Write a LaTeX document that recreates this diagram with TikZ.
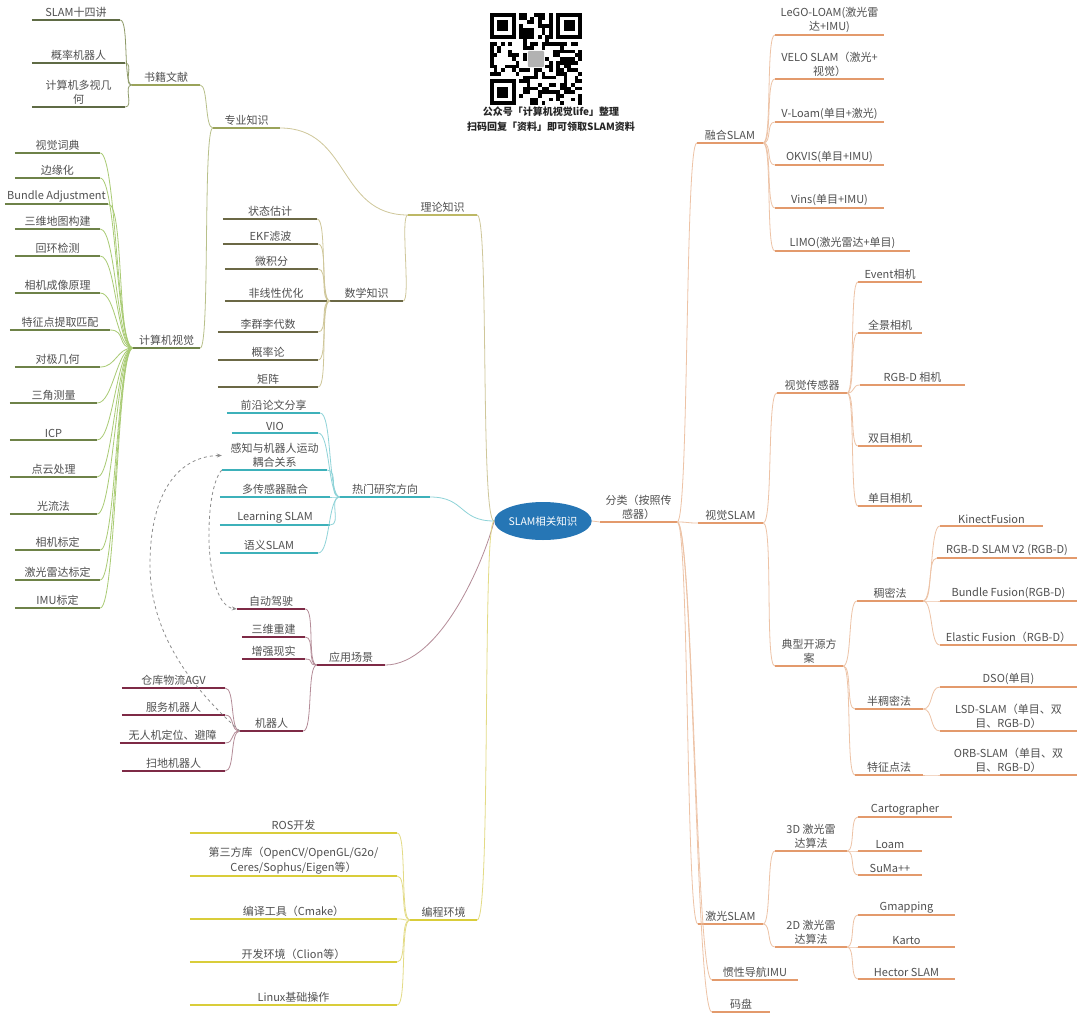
\documentclass[tikz,border=0pt]{standalone}
\usepackage{fontspec}
\setmainfont{Noto Sans CJK SC}
\usetikzlibrary{arrows.meta,shapes.geometric}
\definecolor{txt}{HTML}{505050}
\definecolor{gUL}{HTML}{6E8248}
\definecolor{gCN}{HTML}{A9CB74}
\definecolor{oUL}{HTML}{5F6B45}
\definecolor{oCN}{HTML}{8E9A68}
\definecolor{kUL}{HTML}{6B6845}
\definecolor{kCN}{HTML}{CFC79A}
\definecolor{lUL}{HTML}{BDB865}
\definecolor{pUL}{HTML}{9AA35A}
\definecolor{pCN}{HTML}{B8C08A}
\definecolor{tUL}{HTML}{3DB1BA}
\definecolor{tCN}{HTML}{8ED3D8}
\definecolor{mUL}{HTML}{7E2A46}
\definecolor{mCN}{HTML}{B48C98}
\definecolor{yUL}{HTML}{D9CD3A}
\definecolor{yCN}{HTML}{E3DB86}
\definecolor{rUL}{HTML}{E39A6C}
\definecolor{rCN}{HTML}{EDC3A6}
\definecolor{cenb}{HTML}{2676B5}
\tikzset{
  mmnode/.style={anchor=south, inner xsep=0pt, inner ysep=2pt, align=center, text=txt, font=\fontsize{11}{14.5}\selectfont},
  ul/.style={line width=1.8pt, line cap=butt},
  cn/.style={line width=0.8pt},
  rel/.style={draw=black!45, dashed, line width=0.8pt, -{Stealth[length=5pt,width=4pt]}},
}
\newcommand\mmn[6]{%
  \node[mmnode, minimum width={#3-#2}] (#1) at ({(#2+#3)/2},#4) {#6};
  \draw[#5] (#1.south west) -- (#1.south east);}
\newcommand\lc[4]{\draw[#1] (#2.south west) .. controls +(-#4,0) and +(#4,0) .. (#3.south east);}
\newcommand\rc[4]{\draw[#1] (#2.south east) .. controls +(#4,0) and +(-#4,0) .. (#3.south west);}
\begin{document}
\begin{tikzpicture}[x=1pt,y=-1pt]
\useasboundingbox (0,0) rectangle (1080,1015);
\fill[white] (0,0) rectangle (1080,1015);

% ---------- QR code ----------
\begin{scope}[shift={(490,13)},x=3.68pt,y=-3.68pt]
  \pgfmathsetseed{4242}
  \foreach \i in {0,...,24}{\foreach \j in {0,...,24}{
    \pgfmathtruncatemacro\qon{(((\i<8)&&(\j<8))||((\i>16)&&(\j<8))||((\i<8)&&(\j>16))||((\i>9)&&(\i<15)&&(\j>9)&&(\j<15))) ? 0 : ((rnd<0.5) ? 1 : 0)}
    \ifnum\qon=1 \fill[black] (\i,\j) rectangle ++(1,1);\fi
  }}
  \foreach \a/\b in {0/0,18/0,0/18}{
    \fill[black] (\a,\b) rectangle ++(7,7);
    \fill[white] (\a+1,\b+1) rectangle ++(5,5);
    \fill[black] (\a+2,\b+2) rectangle ++(3,3);}
  \fill[black!30,rounded corners=1pt] (10.3,10.3) rectangle (14.7,14.7);
\end{scope}
\node[font=\bfseries\fontsize{10}{12}\selectfont, text=black!85] (qt1) at (551,112) {公众号「计算机视觉life」整理};
\node[font=\bfseries\fontsize{10}{12}\selectfont, text=black!85] (qt2) at (551,127) {扫码回复「资料」即可领取SLAM资料};

% ---------- center ----------
\node[ellipse, fill=cenb, minimum width=97, minimum height=38, inner sep=0pt, text=white, font=\fontsize{10.5}{12}\selectfont] (cen) at (543,521) {SLAM相关知识};

% ---------- 理论知识 ----------
\mmn{ll}{408}{477}{215}{ul,lUL}{理论知识}
\mmn{zy}{213}{280}{128}{ul,pUL}{专业知识}
\mmn{bk}{132}{200}{85}{ul,pUL}{书籍文献}
\mmn{b1}{32}{120}{20}{ul,oUL}{SLAM十四讲}
\mmn{b2}{32}{125}{63}{ul,oUL}{概率机器人}
\mmn{b3}{32}{125}{107}{ul,oUL}{计算机多视几\\何}
\mmn{cv}{133}{200}{348}{ul,gUL}{计算机视觉}
\mmn{c1}{15}{100}{153}{ul,gUL}{视觉词典}
\mmn{c2}{15}{100}{178}{ul,gUL}{边缘化}
\mmn{c3}{5}{108}{204}{ul,gUL}{Bundle Adjustment}
\mmn{c4}{15}{100}{229}{ul,gUL}{三维地图构建}
\mmn{c5}{15}{100}{256}{ul,gUL}{回环检测}
\mmn{c6}{15}{100}{293}{ul,gUL}{相机成像原理}
\mmn{c7}{10}{110}{330}{ul,gUL}{特征点提取匹配}
\mmn{c8}{15}{100}{367}{ul,gUL}{对极几何}
\mmn{c9}{10}{97}{403}{ul,gUL}{三角测量}
\mmn{c10}{10}{97}{440}{ul,gUL}{ICP}
\mmn{c11}{10}{97}{477}{ul,gUL}{点云处理}
\mmn{c12}{10}{97}{514}{ul,gUL}{光流法}
\mmn{c13}{15}{100}{550}{ul,gUL}{相机标定}
\mmn{c14}{15}{100}{580}{ul,gUL}{激光雷达标定}
\mmn{c15}{15}{100}{608}{ul,gUL}{IMU标定}
\mmn{sx}{330}{403}{301}{ul,kUL}{数学知识}
\mmn{m1}{223}{317}{219}{ul,kUL}{状态估计}
\mmn{m2}{223}{318}{244}{ul,kUL}{EKF滤波}
\mmn{m3}{225}{318}{269}{ul,kUL}{微积分}
\mmn{m4}{225}{327}{301}{ul,kUL}{非线性优化}
\mmn{m5}{218}{318}{332}{ul,kUL}{李群李代数}
\mmn{m6}{218}{318}{360}{ul,kUL}{概率论}
\mmn{m7}{218}{318}{387}{ul,kUL}{矩阵}

\draw[cn,kCN] (cen.west) .. controls +(-14,0) and +(12,0) .. (ll.south east);
\lc{cn,kCN}{ll}{zy}{70}
\lc{cn,kCN}{ll}{sx}{8}
\lc{cn,pCN}{zy}{bk}{8}
\lc{cn,pCN}{zy}{cv}{10}
\foreach \n in {b1,b2,b3}{\lc{cn,oCN}{bk}{\n}{9}}
\foreach \n in {c1,c2,c3,c4,c5,c6,c7,c8,c9,c10,c11,c12,c13,c14,c15}{\lc{cn,gCN}{cv}{\n}{16}}
\foreach \n in {m1,m2,m3,m4,m5,m6,m7}{\lc{cn,kCN}{sx}{\n}{10}}

% ---------- 热门研究方向 ----------
\mmn{rm}{340}{430}{497}{ul,tUL}{热门研究方向}
\mmn{r1}{227}{320}{413}{ul,tUL}{前沿论文分享}
\mmn{r2}{232}{318}{433}{ul,tUL}{VIO}
\mmn{r3}{222}{327}{470}{ul,tUL}{感知与机器人运动\\耦合关系}
\mmn{r4}{220}{330}{497}{ul,tUL}{多传感器融合}
\mmn{r5}{220}{330}{525}{ul,tUL}{Learning SLAM}
\mmn{r6}{220}{318}{553}{ul,tUL}{语义SLAM}
\draw[cn,tCN] (cen.west) .. controls +(-35,0) and +(35,0) .. (rm.south east);
\foreach \n in {r1,r2,r3,r4,r5,r6}{\lc{cn,tCN}{rm}{\n}{12}}

% ---------- 应用场景 ----------
\mmn{yy}{317}{385}{665}{ul,mUL}{应用场景}
\mmn{a1}{237}{305}{609}{ul,mUL}{自动驾驶}
\mmn{a2}{242}{305}{637}{ul,mUL}{三维重建}
\mmn{a3}{242}{305}{659}{ul,mUL}{增强现实}
\mmn{jq}{240}{303}{731}{ul,mUL}{机器人}
\mmn{j1}{122}{225}{688}{ul,mUL}{仓库物流AGV}
\mmn{j2}{122}{225}{715}{ul,mUL}{服务机器人}
\mmn{j3}{120}{225}{743}{ul,mUL}{无人机定位、避障}
\mmn{j4}{122}{225}{771}{ul,mUL}{扫地机器人}
\draw[cn,mCN] (cen.west) .. controls +(-10,40) and +(55,0) .. (yy.south east);
\foreach \n in {a1,a2,a3,jq}{\lc{cn,mCN}{yy}{\n}{10}}
\foreach \n in {j1,j2,j3,j4}{\lc{cn,mCN}{jq}{\n}{10}}

% ---------- 编程环境 ----------
\mmn{bc}{410}{477}{920}{ul,yUL}{编程环境}
\mmn{p1}{190}{397}{833}{ul,yUL}{ROS开发}
\mmn{p2}{190}{397}{876}{ul,yUL}{第三方库（OpenCV/OpenGL/G2o/\\Ceres/Sophus/Eigen等）}
\mmn{p3}{190}{397}{919}{ul,yUL}{编译工具（Cmake）}
\mmn{p4}{190}{397}{962}{ul,yUL}{开发环境（Clion等）}
\mmn{p5}{190}{397}{1005}{ul,yUL}{Linux基础操作}
\draw[cn,yCN] (cen.west) .. controls +(-12,0) and +(14,0) .. (bc.south east);
\foreach \n in {p1,p2,p3,p4,p5}{\lc{cn,yCN}{bc}{\n}{10}}

% ---------- relations ----------
\draw[rel] (r3.south west) .. controls (203,490) and (203,605) .. (a1.south west);
\draw[rel] (jq.south west) .. controls (200,695) and (150,640) .. (150,565) .. controls (150,490) and (180,456) .. (r3.west);

% ---------- right side ----------
\mmn{fl}{600}{677}{522}{ul,rUL}{分类（按照传\\感器）}
\draw[cn,rCN] (cen.east) -- (fl.south west);
\mmn{rh}{697}{763}{143}{ul,rUL}{融合SLAM}
\mmn{h1}{775}{884}{35}{ul,rUL}{LeGO-LOAM(激光雷\\达+IMU)}
\mmn{h2}{775}{884}{79}{ul,rUL}{VELO SLAM（激光+\\视觉）}
\mmn{h3}{775}{884}{122}{ul,rUL}{V-Loam(单目+激光)}
\mmn{h4}{775}{884}{165}{ul,rUL}{OKVIS(单目+IMU)}
\mmn{h5}{775}{884}{208}{ul,rUL}{Vins(单目+IMU)}
\mmn{h6}{775}{910}{251}{ul,rUL}{LIMO(激光雷达+单目)}
\mmn{sj}{698}{763}{523}{ul,rUL}{视觉SLAM}
\mmn{sc}{777}{847}{393}{ul,rUL}{视觉传感器}
\mmn{s1}{858}{922}{282}{ul,rUL}{Event相机}
\mmn{s2}{858}{922}{333}{ul,rUL}{全景相机}
\mmn{s3}{860}{965}{385}{ul,rUL}{RGB-D 相机}
\mmn{s4}{858}{922}{446}{ul,rUL}{双目相机}
\mmn{s5}{858}{922}{506}{ul,rUL}{单目相机}
\mmn{dx}{775}{843}{666}{ul,rUL}{典型开源方\\案}
\mmn{dm}{857}{923}{601}{ul,rUL}{稠密法}
\mmn{d1}{940}{1043}{526}{ul,rUL}{KinectFusion}
\mmn{d2}{937}{1077}{558}{ul,rUL}{RGB-D SLAM V2 (RGB-D)}
\mmn{d3}{940}{1077}{601}{ul,rUL}{Bundle Fusion(RGB-D)}
\mmn{d4}{940}{1077}{645}{ul,rUL}{Elastic Fusion（RGB-D）}
\mmn{bm}{855}{923}{709}{ul,rUL}{半稠密法}
\mmn{e1}{940}{1077}{687}{ul,rUL}{DSO(单目)}
\mmn{e2}{940}{1077}{731}{ul,rUL}{LSD-SLAM（单目、双\\目、RGB-D）}
\mmn{tz}{855}{923}{775}{ul,rUL}{特征点法}
\mmn{f1}{940}{1077}{775}{ul,rUL}{ORB-SLAM（单目、双\\目、RGB-D）}
\mmn{jg}{698}{763}{924}{ul,rUL}{激光SLAM}
\mmn{l3}{775}{847}{851}{ul,rUL}{3D 激光雷\\达算法}
\mmn{g1}{858}{952}{817}{ul,rUL}{Cartographer}
\mmn{g2}{858}{922}{851}{ul,rUL}{Loam}
\mmn{g3}{858}{922}{875}{ul,rUL}{SuMa++}
\mmn{l2}{775}{847}{947}{ul,rUL}{2D 激光雷\\达算法}
\mmn{k1}{858}{955}{915}{ul,rUL}{Gmapping}
\mmn{k2}{858}{955}{947}{ul,rUL}{Karto}
\mmn{k3}{858}{955}{979}{ul,rUL}{Hector SLAM}
\mmn{gx}{712}{798}{980}{ul,rUL}{惯性导航IMU}
\mmn{mp}{712}{770}{1012}{ul,rUL}{码盘}

\foreach \n in {rh,sj,jg}{\rc{cn,rCN}{fl}{\n}{12}}
\foreach \n in {gx,mp}{\rc{cn,rCN}{fl}{\n}{16}}
\foreach \n in {h1,h2,h3,h4,h5,h6}{\rc{cn,rCN}{rh}{\n}{9}}
\foreach \n in {sc,dx}{\rc{cn,rCN}{sj}{\n}{10}}
\foreach \n in {s1,s2,s3,s4,s5}{\rc{cn,rCN}{sc}{\n}{8}}
\foreach \n in {dm,bm,tz}{\rc{cn,rCN}{dx}{\n}{9}}
\foreach \n in {d1,d2,d3,d4}{\rc{cn,rCN}{dm}{\n}{10}}
\foreach \n in {e1,e2}{\rc{cn,rCN}{bm}{\n}{10}}
\rc{cn,rCN}{tz}{f1}{10}
\foreach \n in {g1,g2,g3}{\rc{cn,rCN}{l3}{\n}{8}}
\foreach \n in {k1,k2,k3}{\rc{cn,rCN}{l2}{\n}{8}}
\foreach \n in {l3,l2}{\rc{cn,rCN}{jg}{\n}{8}}
\end{tikzpicture}
\end{document}
